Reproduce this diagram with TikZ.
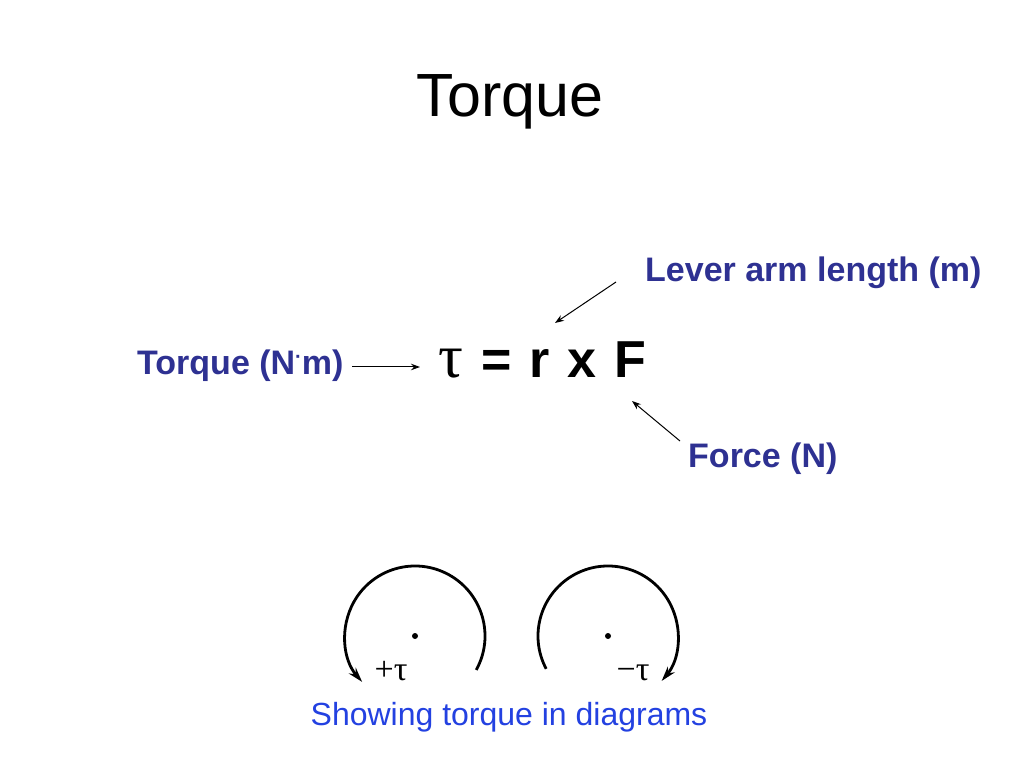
\documentclass[tikz,border=0pt]{standalone}
\usepackage{fontspec}
\setmainfont{Liberation Sans}
\newfontfamily\serifgr{Liberation Serif}
\usetikzlibrary{arrows.meta}
\definecolor{labelblue}{RGB}{46,49,146}
\definecolor{capblue}{RGB}{35,65,225}
\tikzset{
  lbl/.style={inner sep=0pt, anchor=base west, text=labelblue, font=\fontsize{34}{40}\selectfont\bfseries},
  thinarrow/.style={line width=1pt, -{Stealth[length=9pt,width=6.5pt]}},
  turn/.style={line width=2.8pt, -{Stealth[length=15pt,width=9pt]}},
  pivot/.style={circle, fill=black, inner sep=0pt, minimum size=6pt},
  sign/.style={inner sep=0pt, anchor=base, font=\serifgr\fontsize{34}{40}\selectfont}
}
\begin{document}
\begin{tikzpicture}[x=1pt,y=1pt]
\useasboundingbox (0,0) rectangle (1024,768);
\fill[white] (0,0) rectangle (1024,768);
% title
\node[inner sep=0pt, anchor=base, font=\fontsize{61}{72}\selectfont] (title) at (510,651) {Torque};
% equation
\node[inner sep=0pt, anchor=base west, font=\fontsize{52}{64}\selectfont\bfseries] (eq) at (438,390) {\spaceskip=18pt {\serifgr\mdseries\fontsize{62}{64}\selectfont τ} = r x F};
% labels
\node[lbl] (torque) at (137,393) {Torque (N\raisebox{0.35em}{\fontsize{20}{20}\selectfont·}m)};
\node[lbl] (lever) at (645,486) {Lever arm length (m)};
\node[lbl] (force) at (688,300) {Force (N)};
% arrow end points
\coordinate (t1) at (352,401);
\coordinate (t2) at (420,401);
\coordinate (l1) at (616,486);
\coordinate (l2) at (555,445);
\coordinate (f1) at (680,327);
\coordinate (f2) at (632,367);
\draw[thinarrow] (t1) -- (t2);
\draw[thinarrow] (l1) -- (l2);
\draw[thinarrow] (f1) -- (f2);
% torque diagrams
\node[pivot] (c1) at (415,132) {};
\node[pivot] (c2) at (608,132) {};
\draw[turn] ([shift={(-29:70)}]c1.center) arc[start angle=-29, end angle=221, radius=70];
\draw[turn] ([shift={(208:70)}]c2.center) arc[start angle=208, end angle=-40, radius=70];
\node[sign] (plus) at (391,88) {+τ};
\node[sign] (minus) at (633,88) {−τ};
% caption
\node[inner sep=0pt, anchor=base, text=capblue, font=\fontsize{32}{38}\selectfont] (cap) at (509,43) {Showing torque in diagrams};
\end{tikzpicture}
\end{document}
